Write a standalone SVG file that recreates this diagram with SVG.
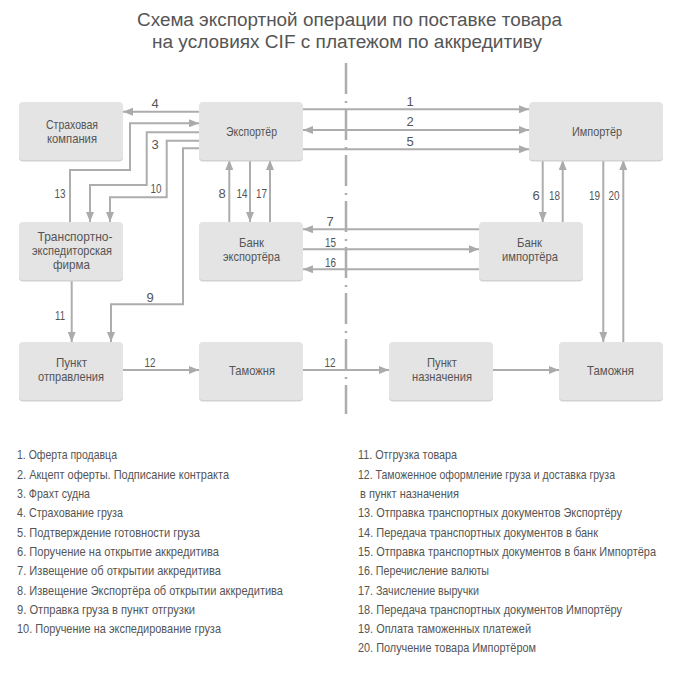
<svg xmlns="http://www.w3.org/2000/svg" width="681" height="692" viewBox="0 0 681 692">
<defs>
<marker id="arr" viewBox="0 0 10 8" refX="10" refY="4" markerWidth="10" markerHeight="8" markerUnits="userSpaceOnUse" orient="auto-start-reverse">
<path d="M0,0 L10,4 L0,8 z" fill="#ababab"/>
</marker>
<style>
text{font-family:"Liberation Sans",Arial,sans-serif;fill:#555}
.title{font-size:18px;text-anchor:middle}
.lbl{font-size:13px;text-anchor:middle}
.num{font-size:13px;text-anchor:middle}
.leg{font-size:13px}
.box{fill:#e4e4e4}
.sh{fill:#d2d2d2}
.c{fill:none;stroke:#adadad;stroke-width:2}
.c1{marker-end:url(#arr)}
.div{fill:none;stroke:#adadad;stroke-width:2.5;stroke-dasharray:31 7 2 6}
</style>
</defs>
<rect width="681" height="692" fill="#ffffff"/>
<g id="title">
<text class="title" x="349.5" y="26" textLength="425" lengthAdjust="spacingAndGlyphs">Схема экспортной операции по поставке товара</text>
<text class="title" x="347" y="48" textLength="390" lengthAdjust="spacingAndGlyphs">на условиях CIF с платежом по аккредитиву</text>
</g>
<line id="divider" class="div" x1="346" y1="63" x2="346" y2="414"/>
<g id="connectors">
<path class="c c1" d="M199,111.7 H123"/>
<path class="c c1" d="M70,222 V170 H130 V123.3 H199"/>
<path class="c c1" d="M199,132.3 H146.7 V185 H90 V222"/>
<path class="c c1" d="M199,140.7 H166.7 V197.3 H110 V222"/>
<path class="c c1" d="M199,148.3 H183 V304.3 H111 V342"/>
<path class="c c1" d="M71.7,280 V342"/>
<path class="c c1" d="M229.3,222 V160"/>
<path class="c c1" d="M250,160 V222"/>
<path class="c c1" d="M270,222 V160"/>
<path class="c c1" d="M303,109.3 H529"/>
<path class="c c1" d="M303,130 H529" marker-start="url(#arr)"/>
<path class="c c1" d="M303,149.3 H529"/>
<path class="c c1" d="M479,229.3 H303"/>
<path class="c c1" d="M303,249.3 H479"/>
<path class="c c1" d="M479,269.3 H303"/>
<path class="c c1" d="M542.7,160 V222"/>
<path class="c c1" d="M562.7,222 V160"/>
<path class="c c1" d="M603.3,160 V342"/>
<path class="c c1" d="M623.3,342 V160"/>
<path class="c c1" d="M123,370 H199"/>
<path class="c c1" d="M303,370 H389"/>
<path class="c c1" d="M493,370 H559"/>
<g id="connector-labels">
<text class="num" x="155" y="108">4</text>
<text class="num" x="410" y="106">1</text>
<text class="num" x="410" y="126">2</text>
<text class="num" x="410" y="146">5</text>
<text class="num" x="155" y="149">3</text>
<text class="num" x="156" y="193" textLength="11" lengthAdjust="spacingAndGlyphs">10</text>
<text class="num" x="60" y="198" textLength="11" lengthAdjust="spacingAndGlyphs">13</text>
<text class="num" x="222" y="198">8</text>
<text class="num" x="242" y="198" textLength="11" lengthAdjust="spacingAndGlyphs">14</text>
<text class="num" x="261.5" y="198" textLength="11" lengthAdjust="spacingAndGlyphs">17</text>
<text class="num" x="536" y="199.5">6</text>
<text class="num" x="554.5" y="199.5" textLength="11" lengthAdjust="spacingAndGlyphs">18</text>
<text class="num" x="594.5" y="199.5" textLength="11" lengthAdjust="spacingAndGlyphs">19</text>
<text class="num" x="614" y="199.5" textLength="11" lengthAdjust="spacingAndGlyphs">20</text>
<text class="num" x="330" y="226">7</text>
<text class="num" x="330.5" y="246.5" textLength="11" lengthAdjust="spacingAndGlyphs">15</text>
<text class="num" x="330.5" y="266.5" textLength="11" lengthAdjust="spacingAndGlyphs">16</text>
<text class="num" x="150" y="302">9</text>
<text class="num" x="60" y="320" textLength="10" lengthAdjust="spacingAndGlyphs">11</text>
<text class="num" x="150" y="367" textLength="11" lengthAdjust="spacingAndGlyphs">12</text>
<text class="num" x="330" y="367" textLength="11" lengthAdjust="spacingAndGlyphs">12</text>
</g>
</g>
<g id="insurance">
<rect class="sh" x="19" y="103.5" width="104" height="58" rx="4"/>
<rect class="box" x="19" y="102" width="104" height="58" rx="4"/>
<text class="lbl" x="72" y="128.5" textLength="52" lengthAdjust="spacingAndGlyphs">Страховая</text>
<text class="lbl" x="72" y="142.5" textLength="50" lengthAdjust="spacingAndGlyphs">компания</text>
</g>
<g id="exporter">
<rect class="sh" x="199" y="103.5" width="104" height="58" rx="4"/>
<rect class="box" x="199" y="102" width="104" height="58" rx="4"/>
<text class="lbl" x="251.5" y="135.5" textLength="51" lengthAdjust="spacingAndGlyphs">Экспортёр</text>
</g>
<g id="importer">
<rect class="sh" x="529" y="103.5" width="134" height="58" rx="4"/>
<rect class="box" x="529" y="102" width="134" height="58" rx="4"/>
<text class="lbl" x="597" y="135.5" textLength="50" lengthAdjust="spacingAndGlyphs">Импортёр</text>
</g>
<g id="forwarder">
<rect class="sh" x="19" y="223.5" width="104" height="58" rx="4"/>
<rect class="box" x="19" y="222" width="104" height="58" rx="4"/>
<text class="lbl" x="75" y="241" textLength="75" lengthAdjust="spacingAndGlyphs">Транспортно-</text>
<text class="lbl" x="72" y="255" textLength="80" lengthAdjust="spacingAndGlyphs">экспедиторская</text>
<text class="lbl" x="71.5" y="268.5" textLength="37" lengthAdjust="spacingAndGlyphs">фирма</text>
</g>
<g id="exporter-bank">
<rect class="sh" x="199" y="223.5" width="104" height="58" rx="4"/>
<rect class="box" x="199" y="222" width="104" height="58" rx="4"/>
<text class="lbl" x="251.5" y="247" textLength="25" lengthAdjust="spacingAndGlyphs">Банк</text>
<text class="lbl" x="251.5" y="261" textLength="57" lengthAdjust="spacingAndGlyphs">экспортёра</text>
</g>
<g id="importer-bank">
<rect class="sh" x="479" y="223.5" width="104" height="58" rx="4"/>
<rect class="box" x="479" y="222" width="104" height="58" rx="4"/>
<text class="lbl" x="529.5" y="247" textLength="25" lengthAdjust="spacingAndGlyphs">Банк</text>
<text class="lbl" x="530" y="261" textLength="56" lengthAdjust="spacingAndGlyphs">импортёра</text>
</g>
<g id="dispatch-point">
<rect class="sh" x="19" y="343.5" width="104" height="58" rx="4"/>
<rect class="box" x="19" y="342" width="104" height="58" rx="4"/>
<text class="lbl" x="71.5" y="367" textLength="31" lengthAdjust="spacingAndGlyphs">Пункт</text>
<text class="lbl" x="71" y="381" textLength="66" lengthAdjust="spacingAndGlyphs">отправления</text>
</g>
<g id="customs-export">
<rect class="sh" x="199" y="343.5" width="104" height="58" rx="4"/>
<rect class="box" x="199" y="342" width="104" height="58" rx="4"/>
<text class="lbl" x="252" y="375" textLength="46" lengthAdjust="spacingAndGlyphs">Таможня</text>
</g>
<g id="destination-point">
<rect class="sh" x="389" y="343.5" width="104" height="58" rx="4"/>
<rect class="box" x="389" y="342" width="104" height="58" rx="4"/>
<text class="lbl" x="442" y="367" textLength="30" lengthAdjust="spacingAndGlyphs">Пункт</text>
<text class="lbl" x="442" y="381" textLength="60" lengthAdjust="spacingAndGlyphs">назначения</text>
</g>
<g id="customs-import">
<rect class="sh" x="559" y="343.5" width="104" height="58" rx="4"/>
<rect class="box" x="559" y="342" width="104" height="58" rx="4"/>
<text class="lbl" x="610.5" y="375" textLength="47" lengthAdjust="spacingAndGlyphs">Таможня</text>
</g>
<g id="legend-left" transform="scale(0.82 1)">
<text class="leg" x="20.73" y="459.5" textLength="121.95" lengthAdjust="spacingAndGlyphs">1. Оферта продавца</text>
<text class="leg" x="20.73" y="478.8" textLength="258.54" lengthAdjust="spacingAndGlyphs">2. Акцепт оферты. Подписание контракта</text>
<text class="leg" x="20.73" y="498.1" textLength="89.02" lengthAdjust="spacingAndGlyphs">3. Фрахт судна</text>
<text class="leg" x="20.73" y="517.4" textLength="129.27" lengthAdjust="spacingAndGlyphs">4. Страхование груза</text>
<text class="leg" x="20.73" y="536.7" textLength="223.17" lengthAdjust="spacingAndGlyphs">5. Подтверждение готовности груза</text>
<text class="leg" x="20.73" y="556" textLength="246.34" lengthAdjust="spacingAndGlyphs">6. Поручение на открытие аккредитива</text>
<text class="leg" x="20.73" y="575.3" textLength="248.78" lengthAdjust="spacingAndGlyphs">7. Извещение об открытии аккредитива</text>
<text class="leg" x="20.73" y="594.6" textLength="324.39" lengthAdjust="spacingAndGlyphs">8. Извещение Экспортёра об открытии аккредитива</text>
<text class="leg" x="20.73" y="613.9" textLength="217.07" lengthAdjust="spacingAndGlyphs">9. Отправка груза в пункт отгрузки</text>
<text class="leg" x="20.73" y="633.2" textLength="248.78" lengthAdjust="spacingAndGlyphs">10. Поручение на экспедирование груза</text>
</g>
<g id="legend-right" transform="scale(0.82 1)">
<text class="leg" x="436.59" y="459.5" textLength="120.73" lengthAdjust="spacingAndGlyphs">11. Отгрузка товара</text>
<text class="leg" x="436.59" y="478.8" textLength="313.41" lengthAdjust="spacingAndGlyphs">12. Таможенное оформление груза и доставка груза</text>
<text class="leg" x="439.02" y="498.1" textLength="120.73" lengthAdjust="spacingAndGlyphs">в пункт назначения</text>
<text class="leg" x="436.59" y="517.4" textLength="321.95" lengthAdjust="spacingAndGlyphs">13. Отправка транспортных документов Экспортёру</text>
<text class="leg" x="436.59" y="536.7" textLength="292.68" lengthAdjust="spacingAndGlyphs">14. Передача транспортных документов в банк</text>
<text class="leg" x="436.59" y="556" textLength="363.41" lengthAdjust="spacingAndGlyphs">15. Отправка транспортных документов в банк Импортёра</text>
<text class="leg" x="436.59" y="575.3" textLength="159.76" lengthAdjust="spacingAndGlyphs">16. Перечисление валюты</text>
<text class="leg" x="436.59" y="594.6" textLength="147.56" lengthAdjust="spacingAndGlyphs">17. Зачисление выручки</text>
<text class="leg" x="436.59" y="613.9" textLength="321.95" lengthAdjust="spacingAndGlyphs">18. Передача транспортных документов Импортёру</text>
<text class="leg" x="436.59" y="633.2" textLength="210.98" lengthAdjust="spacingAndGlyphs">19. Оплата таможенных платежей</text>
<text class="leg" x="436.59" y="652.5" textLength="217.07" lengthAdjust="spacingAndGlyphs">20. Получение товара Импортёром</text>
</g>
</svg>
